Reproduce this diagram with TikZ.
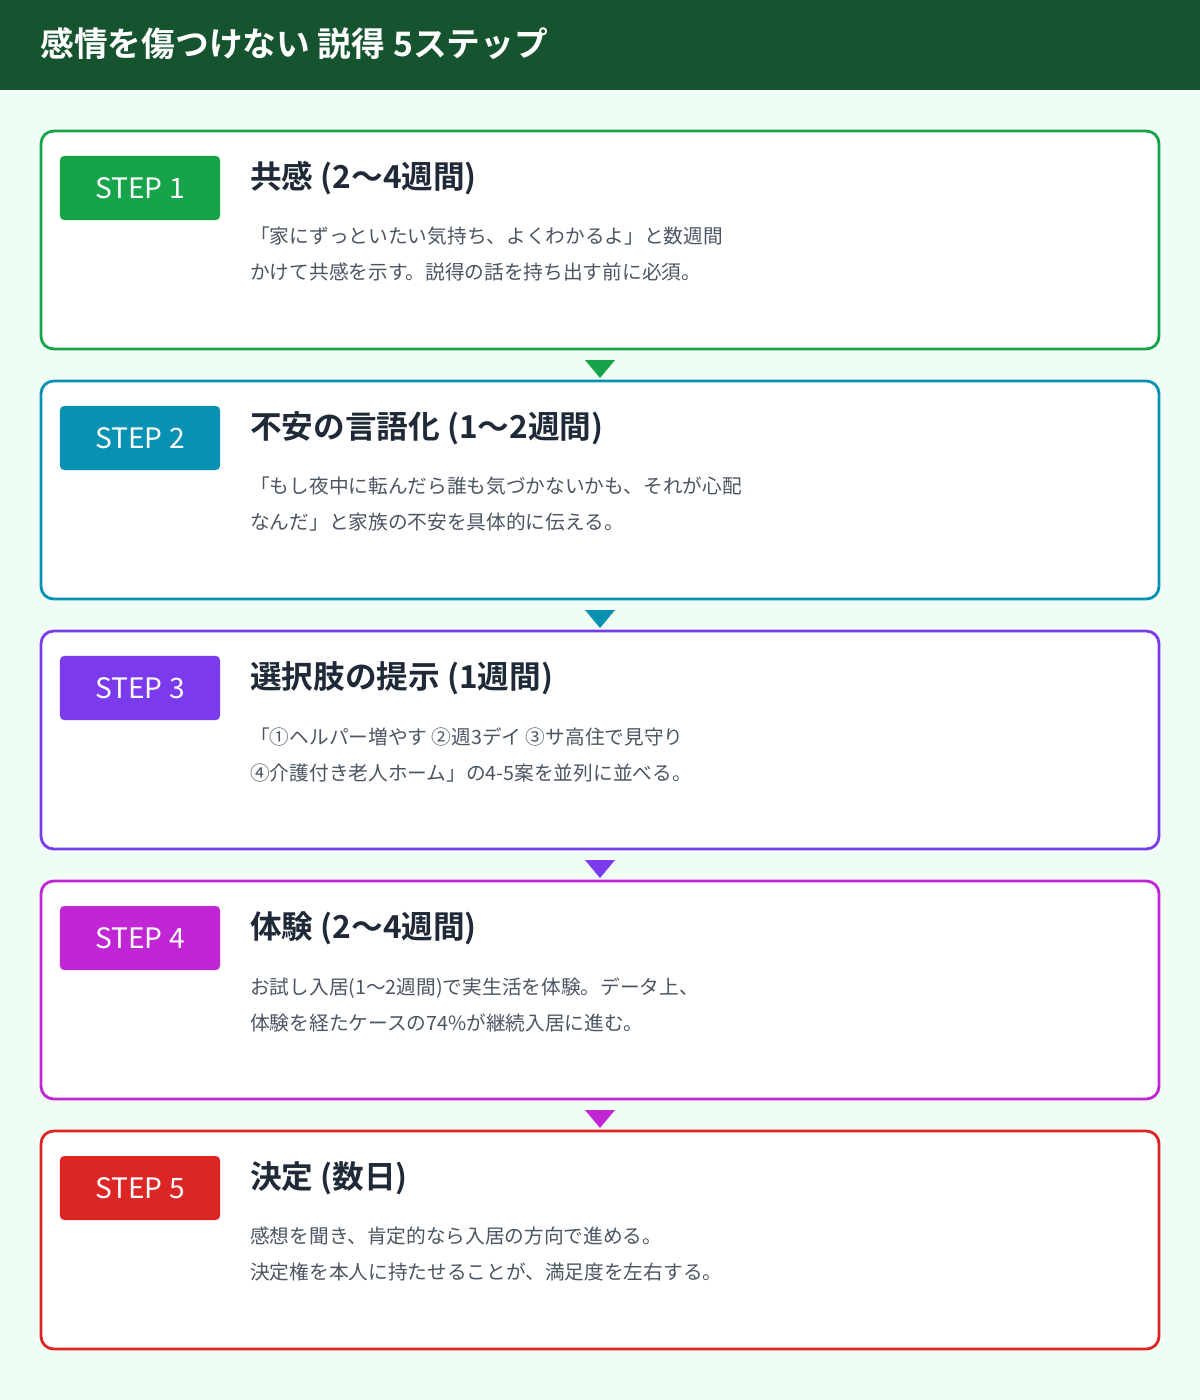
\documentclass[tikz,border=0pt]{standalone}
\usepackage{fontspec}
\setmainfont{Noto Sans CJK JP}
\newfontfamily\jpbold{Noto Sans CJK JP Bold}
\usetikzlibrary{positioning}
\definecolor{hdr}{HTML}{16532F}
\definecolor{bgc}{HTML}{F0FDF4}
\definecolor{cA}{HTML}{16A34A}
\definecolor{cB}{HTML}{0891B2}
\definecolor{cC}{HTML}{7C3AED}
\definecolor{cD}{HTML}{C026D3}
\definecolor{cE}{HTML}{DC2626}
\definecolor{ttl}{HTML}{1F2937}
\definecolor{txt}{HTML}{4B5563}
\tikzset{
  card/.style={draw=#1, line width=2pt, fill=white, rounded corners=9pt},
  badge/.style={fill=#1, rounded corners=3pt, minimum width=4cm, minimum height=1.6cm,
    text=white, font=\fontsize{20}{24}\selectfont},
  steptitle/.style={anchor=west, inner sep=0pt, text=ttl, font=\jpbold\fontsize{22.5}{26}\selectfont},
  stepbody/.style={anchor=north west, inner sep=0pt, align=left, text=txt, font=\fontsize{14}{25.6}\selectfont}
}
\begin{document}
\begin{tikzpicture}[x=0.025cm,y=-0.025cm]
    \useasboundingbox (0,0) rectangle (1200,1400);
    \fill[bgc] (0,0) rectangle (1200,1400);
    \fill[hdr] (0,0) rectangle (1200,90);
    \node[anchor=west, inner sep=0pt, text=white, font=\jpbold\fontsize{24}{28}\selectfont] (head) at (40,44) {感情を傷つけない 説得 5ステップ};
    \foreach \i/\c/\t/\la/\lb in {
      1/cA/{共感 (2〜4週間)}/{「家にずっといたい気持ち、よくわかるよ」と数週間}/{かけて共感を示す。説得の話を持ち出す前に必須。},
      2/cB/{不安の言語化 (1〜2週間)}/{「もし夜中に転んだら誰も気づかないかも、それが心配}/{なんだ」と家族の不安を具体的に伝える。},
      3/cC/{選択肢の提示 (1週間)}/{「①ヘルパー増やす ②週3デイ ③サ高住で見守り}/{④介護付き老人ホーム」の4-5案を並列に並べる。},
      4/cD/{体験 (2〜4週間)}/{お試し入居(1〜2週間)で実生活を体験。データ上、}/{体験を経たケースの74\%が継続入居に進む。},
      5/cE/{決定 (数日)}/{感想を聞き、肯定的なら入居の方向で進める。}/{決定権を本人に持たせることが、満足度を左右する。}} {
      \pgfmathsetmacro{\yy}{131+(\i-1)*250}
      \draw[card=\c] (41,\yy) rectangle (1159,\yy+218);
      \node[badge=\c] (badge\i) at (140,\yy+57) {STEP \i};
      \node[steptitle] (title\i) at (250,\yy+47) {\t};
      \node[stepbody] (body\i) at (250,\yy+96) {\la\\\lb};
      \ifnum\i<5
        \fill[\c] (585,\yy+229) -- (615,\yy+229) -- (600,\yy+247) -- cycle;
      \fi
    }
\end{tikzpicture}
\end{document}
